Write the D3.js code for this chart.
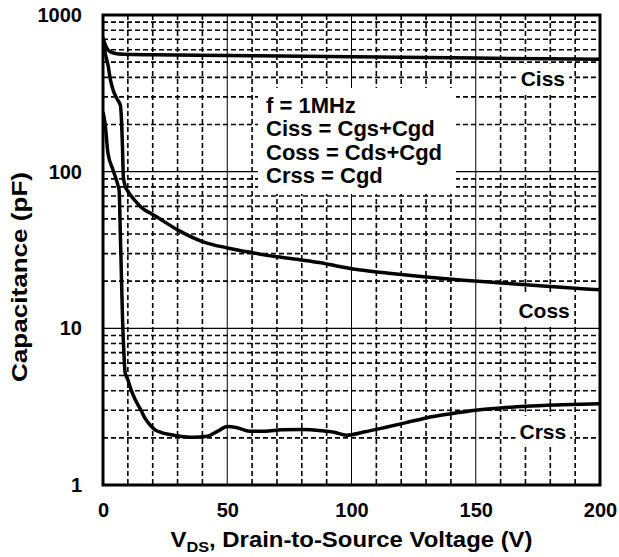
<!DOCTYPE html>
<html>
<head>
<meta charset="utf-8">
<script src="https://cdn.jsdelivr.net/npm/d3@7"></script>
<style>
  body { margin: 0; background: #fff; }
  svg { display: block; }
  text { font-family: "Liberation Sans", Arial, sans-serif; font-weight: bold; fill: #000; }
</style>
</head>
<body>
<script>
// tick labels
const xTicks = [0, 50, 100, 150, 200];
const yTicks = [1, 10, 100, 1000];

// Ciss
const cissV = [0, 1, 2, 3, 5, 8, 12, 20, 50, 100, 150, 200];
const cissC = [720, 640, 600, 582, 568, 561, 559, 557, 552, 542, 531, 521];

// Coss
const cossV = [0, 1, 2, 3, 4, 5, 6, 7, 7.4, 7.8, 8.2, 9, 10, 13, 16, 19, 22, 30, 40, 50, 60, 70, 80, 87, 94, 100, 115, 130, 145, 160, 180, 200];
const cossC = [700, 560, 480, 385, 335, 305, 285, 265, 220, 150, 92, 80, 75, 65, 58, 54.5, 51, 42.5, 35.8, 32.6, 30.4, 28.6, 27.3, 26.3, 25.0, 24.0, 22.5, 21.3, 20.3, 19.5, 18.5, 17.6];

// Crss
const crssV = [0, 0.8, 2, 4, 6, 6.5, 6.9, 7.4, 7.9, 8.4, 8.9, 10, 11.3, 13, 15.3, 17, 19.3, 21, 23.3, 27, 31, 36, 42, 46, 50, 54, 59, 65, 72, 80, 88, 93, 98, 105, 113, 122, 130, 140, 150, 160, 170, 185, 200];
const crssC = [240, 205, 131, 103, 82, 76, 45, 22, 11, 7, 5.2, 4.7, 4.05, 3.5, 3.0, 2.65, 2.38, 2.25, 2.17, 2.1, 2.05, 2.02, 2.05, 2.2, 2.36, 2.32, 2.2, 2.2, 2.25, 2.26, 2.22, 2.17, 2.08, 2.18, 2.32, 2.5, 2.68, 2.85, 3.0, 3.1, 3.18, 3.25, 3.3];

const notes = ["f = 1MHz", "Ciss = Cgs+Cgd", "Coss = Cds+Cgd", "Crss = Cgd"];

const W = 619, H = 557;
const pL = 103, pR = 600, pT = 15, pB = 485;

const svg = d3.select("body").append("svg")
  .attr("width", W)
  .attr("height", H);

const x = d3.scaleLinear().domain([0, 200]).range([pL, pR]);
const y = d3.scaleLog().domain([1, 1000]).range([pB, pT]);

// grid
const vGrid = d3.range(10, 200, 10);
const hGrid = [];
[1, 10, 100].forEach(d => {
  for (let m = 1; m <= 9; m++) if (d * m > 1) hGrid.push(d * m);
});

const grid = svg.append("g");
grid.selectAll(".vg")
  .data(vGrid)
  .enter()
  .append("line")
  .attr("x1", d => x(d)).attr("x2", d => x(d))
  .attr("y1", pT).attr("y2", pB)
  .attr("stroke", "#000")
  .attr("stroke-width", d => d % 50 === 0 ? 1 : 1.6)
  .attr("stroke-dasharray", d => d % 50 === 0 ? null : "5,3");

grid.selectAll(".hg")
  .data(hGrid)
  .enter()
  .append("line")
  .attr("x1", pL).attr("x2", pR)
  .attr("y1", d => y(d)).attr("y2", d => y(d))
  .attr("stroke", "#000")
  .attr("stroke-width", d => (d === 10 || d === 100) ? 1.2 : 1.6)
  .attr("stroke-dasharray", d => (d === 10 || d === 100) ? null : "5,3");

// white box behind the note
svg.append("rect")
  .attr("x", 258).attr("y", 88)
  .attr("width", 198).attr("height", 106)
  .attr("fill", "#fff");

// curves
svg.append("clipPath").attr("id", "plot")
  .append("rect")
  .attr("x", pL).attr("y", pT)
  .attr("width", pR - pL).attr("height", pB - pT);

const line = d3.line()
  .x(d => x(d[0]))
  .y(d => y(d[1]))
  .curve(d3.curveMonotoneX);

const series = [
  d3.zip(cissV, cissC),
  d3.zip(cossV, cossC),
  d3.zip(crssV, crssC)
];

svg.append("g")
  .attr("clip-path", "url(#plot)")
  .selectAll("path")
  .data(series)
  .enter()
  .append("path")
  .attr("d", line)
  .attr("fill", "none")
  .attr("stroke", "#000")
  .attr("stroke-width", 3.5)
  .attr("stroke-linejoin", "round");

// curve labels with white background
const labels = [
  {t: "Ciss", v: 177, c: 391},
  {t: "Coss", v: 177.5, c: 13},
  {t: "Crss", v: 177, c: 2.2}
];
labels.forEach(l => {
  const g = svg.append("g");
  const txt = g.append("text")
    .attr("x", x(l.v))
    .attr("y", y(l.c))
    .attr("dy", "0.36em")
    .attr("text-anchor", "middle")
    .attr("font-size", 21)
    .text(l.t);
  const b = txt.node().getBBox();
  g.insert("rect", "text")
    .attr("x", b.x - 4).attr("y", b.y - 4)
    .attr("width", b.width + 8).attr("height", b.height + 8)
    .attr("fill", "#fff");
});

// note text
svg.append("g")
  .selectAll("text")
  .data(notes)
  .enter()
  .append("text")
  .attr("x", 266)
  .attr("y", (d, i) => 113 + i * 23.4)
  .attr("font-size", 22)
  .text(d => d);

// frame
svg.append("rect")
  .attr("x", pL).attr("y", pT)
  .attr("width", pR - pL).attr("height", pB - pT)
  .attr("fill", "none")
  .attr("stroke", "#000")
  .attr("stroke-width", 3);

// axes
const yAxis = svg.append("g")
  .attr("transform", `translate(${pL},0)`)
  .call(d3.axisLeft(y).tickValues(yTicks).tickSize(0).tickPadding(21).tickFormat(d3.format("d")));
const xAxis = svg.append("g")
  .attr("transform", `translate(0,${pB})`)
  .call(d3.axisBottom(x).tickValues(xTicks).tickSize(0).tickPadding(18).tickFormat(d3.format("d")));
[yAxis, xAxis].forEach(a => {
  a.select(".domain").remove();
  a.selectAll("text")
    .attr("font-size", 20)
    .attr("font-family", "'Liberation Sans', Arial, sans-serif")
    .attr("font-weight", "bold")
    .attr("fill", "#000");
});

// axis titles
const xt = svg.append("text")
  .attr("x", (pL + pR) / 2)
  .attr("y", 547)
  .attr("text-anchor", "middle")
  .attr("font-size", 22)
  .attr("textLength", 362)
  .attr("lengthAdjust", "spacingAndGlyphs");
xt.append("tspan").text("V");
xt.append("tspan").attr("font-size", 15).attr("dy", 5).text("DS");
xt.append("tspan").attr("dy", -5).text(", Drain-to-Source Voltage (V)");

svg.append("text")
  .attr("transform", "translate(27,277) rotate(-90)")
  .attr("text-anchor", "middle")
  .attr("font-size", 22)
  .attr("textLength", 210)
  .attr("lengthAdjust", "spacingAndGlyphs")
  .text("Capacitance (pF)");
</script>
</body>
</html>
